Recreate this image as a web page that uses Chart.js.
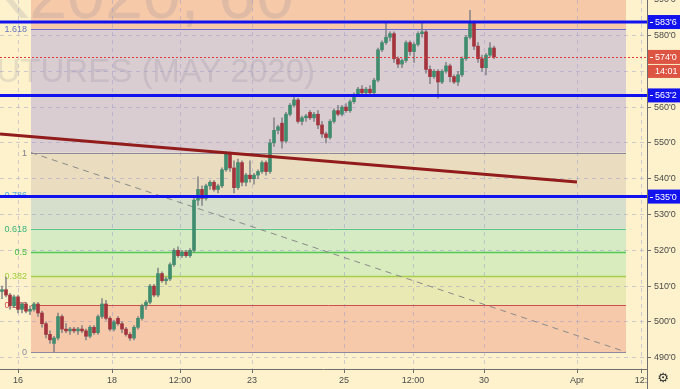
<!DOCTYPE html>
<html>
<head>
<meta charset="utf-8">
<script src="https://cdn.jsdelivr.net/npm/chart.js@4.4.1/dist/chart.umd.min.js"></script>
<style>
    html, body { margin: 0; padding: 0; background: #fdf2cc; overflow: hidden; }
    canvas { display: block; }
</style>
</head>
<body>
<canvas id="wheatChart" width="680" height="389"></canvas>
<script>
// ================= DATA =================
// hourly candles, index 0..123
const opens = [
    508.5,509,507.5,504.5,507,503.5,505,503,503.5,505,
    502.5,499.5,496.5,494,495.5,501.5,498,497.5,498,497.5,
    498,497.5,496,498.5,497,501.5,505,501,498,501,
    499.5,498,496.5,495.5,498.5,501,504.5,505.5,510,507.5,
    513.5,511.5,512,516,520,518.5,519.5,518.5,520,534,
    537,534.5,538,539,537,538,542.5,547,543,537.5,
    544.5,539,541,540,541,542,544.5,542,550,553.5,
    555.5,550.5,558,560.5,562,556,557,558.5,557,558,
    555,552.5,551.5,556,559,558,560,559,561.5,563.5,
    565,564,565,564,567.5,576,578,579.5,580.5,573.5,
    572,573,578,575.5,577.5,580.5,581,570.5,568.5,570,
    567,570,571.5,568.5,567,569,573.5,579.5,583.5,577,
    573.5,571,574.5,576.5
];
const highs = [
    510,512.5,508,507.5,507.5,505.5,505.5,504.5,505.5,505.5,
    503,500,497.5,496,502.5,502,499.5,498.5,498.5,498.5,
    499,498,499,499,502,506.5,506,501.5,500.5,501.5,
    500,498.5,497,499,501.5,505,506,510.5,510.5,515,
    514,512.5,516.5,520.5,521,520,520,520.5,535,540.5,
    538,538.5,539.5,539.5,538.5,543,547.5,547.5,545,545.5,
    545,541.5,545,541.5,542.5,545,545,551,557,555,
    557,558.5,561,562.8,562.5,557.5,558,559,558.5,559,
    556,553,556.5,559.5,560.5,560.5,561,562,564,565.5,
    566,565.5,566,568,576.5,578.5,583.75,581,581,574,
    573.5,578.5,578.5,578,581,583.75,581.5,571.5,570.5,570.5,
    570.5,572.5,572,569,570,574,580,587,584,578,
    574.5,575,578,577
];
const lows = [
    506.5,507,503.5,504,502.5,502.5,502.5,502,503,501.5,
    498.5,495.5,494,491.6,495,497,497,496.5,497,496.5,
    497,495,495.5,496.5,496.5,501,500.5,497.5,497.5,499,
    497,496,494.8,495,498,500.5,503.5,505,507,507,
    511,510.5,511.5,515.5,518,518,518,518,519.5,532.5,
    532.5,534,537,536.5,536,537.5,542,542,536,537,
    538,538,539,538.5,540,541.5,541,541.5,549,552.5,
    548.5,550,557.5,560,555.5,555,556,556.5,556,554,
    551.5,550,551,555.5,557.5,557.5,558.5,558.5,561,563,
    563.5,563.5,563.5,563.5,567,575.5,577.5,578.5,572.5,571,
    571,572.5,574.5,572.5,577,579.5,569.5,566.5,568,562.5,
    566.5,569.5,567,566.5,566,568.5,573,579,576,572.5,
    570,569,574,573.5
];
const closes = [
    509,507.5,504.5,507,503.5,505,503,503.5,505,502.5,
    499.5,496.5,495,495.5,501.5,498,497.5,498,497.5,498,
    497.5,496,498.5,497,501.5,505,501,498,500,499.5,
    498,496.5,495.5,498.5,501,504.5,505.5,510,507.5,513.5,
    511.5,512,516,520,518.5,519.5,518.5,520,534,537,
    534.5,538,539,537,538,542.5,547,543,537.5,544.5,
    539,541,540,541,542,544.5,542,550,553.5,554.5,
    550.5,558,560.5,562,556,557,557.5,557,558,555,
    552.5,551.5,556,559,558,560,559,561.5,563.5,565,
    564,565,564,567.5,576,578,579.5,580.5,573.5,572,
    573,578,575.5,577.5,580.5,581,570.5,568.5,570,567,
    570,571.5,568.5,567,569,573.5,579.5,583.5,577,573.5,
    571,574.5,576.5,574
];

// time axis (bar index) and labels
const timeTickIdx = [4, 27.5, 44.5, 62.5, 85.5, 102.75, 120.5, 143.75, 159.75];
const timeTickLabels = ["16", "18", "12:00", "23", "25", "12:00", "30", "Apr", "12:"];
const priceTicks = [490, 500, 510, 520, 530, 540, 550, 560, 570, 580, 590];

// fibonacci retracement
const fibRatios = [0, 0.236, 0.382, 0.5, 0.618, 0.786, 1, 1.618, 2.618];
const fibLabels = ["0", "0.236", "0.382", "0.5", "0.618", "0.786", "1", "1.618", ""];
const fibLineColors = ["#8e8a9e", "#c9504c", "#a2d04a", "#55c955", "#58c48e", "#5aaade", "#8e8a9e", "#6f6fd2", "#8e8a9e"];
const fibTextColors = ["#8e8a9e", "#e04848", "#9fcd3a", "#44bb44", "#3bb27b", "#58a8e0", "#7e7e8e", "#6b76c0", "#8e8a9e"];
const fibBandColors = ["#f5c9a9", "#e9e9b3", "#d9ecbd", "#d6ebc3", "#d5dfcb", "#eaddbf", "#dacdd1", "#f6c9a9"];
const fibLow = 491.6, fibHigh = 547.3;
const fibStart = 7.25, fibEnd = 156;

// horizontal levels, last price, trend line
const levelValues = [583.75, 563.25, 535];
const levelLabels = ["583'6", "563'2", "535'0"];
const lastPrice = 574;
const lastPriceLabel = "574'0";
const countdownLabel = "14:01";
const trendX = [-0.5, 143.75];
const trendY = [552.5, 539.1];

// ================= HELPERS =================
const fibValue = (r) => fibLow + r * (fibHigh - fibLow);
const axisFont = { family: "Liberation Sans, Arial, sans-serif", size: 9 };

const candleBodies = opens.map((o, i) => ({ x: i, y: [o, closes[i]] }));
const candleWicks = lows.map((l, i) => ({ x: i, y: [l, highs[i]] }));
const bodyColors = opens.map((o, i) => closes[i] >= o ? "#3f8d6e" : "#a3343d");

// no extra room for half labels at the edges
function noEdgePadding(scale) {
    scale.paddingTop = 0;
    scale.paddingBottom = 0;
    scale.paddingLeft = 0;
    scale.paddingRight = 0;
}

// ================= DRAWINGS PLUGIN =================
const drawingsPlugin = {
    id: "drawings",
    beforeDraw(chart) {
        const { ctx, chartArea: a, scales: { x, y } } = chart;
        ctx.save();
        ctx.fillStyle = "#fdf2cc";
        ctx.fillRect(0, 0, chart.width, chart.height);

        ctx.beginPath();
        ctx.rect(a.left, a.top, a.right - a.left, a.bottom - a.top);
        ctx.clip();

        // fib bands
        const x0 = x.getPixelForValue(fibStart);
        const x1 = x.getPixelForValue(fibEnd);
        for (let k = 0; k < fibRatios.length - 1; k++) {
            const yA = y.getPixelForValue(fibValue(fibRatios[k]));
            const yB = y.getPixelForValue(fibValue(fibRatios[k + 1]));
            ctx.fillStyle = fibBandColors[k];
            ctx.fillRect(x0, yB, x1 - x0, yA - yB);
        }

        // watermark
        ctx.fillStyle = "rgba(110,110,140,0.17)";
        ctx.textAlign = "right";
        ctx.textBaseline = "alphabetic";
        ctx.font = "68px Liberation Sans, Arial, sans-serif";
        ctx.fillText("ZWK2020, 60", 294, 18);
        ctx.font = "33px Liberation Sans, Arial, sans-serif";
        ctx.fillText("WHEAT FUTURES (MAY 2020)", 315, 82);
        ctx.restore();
    },
    beforeDatasetsDraw(chart) {
        const { ctx, scales: { x, y } } = chart;
        const x0 = x.getPixelForValue(fibStart);
        const x1 = x.getPixelForValue(fibEnd);
        ctx.save();
        ctx.font = "9px Liberation Sans, Arial, sans-serif";
        ctx.textAlign = "right";
        ctx.textBaseline = "middle";
        fibRatios.forEach((r, k) => {
            const py = Math.round(y.getPixelForValue(fibValue(r))) + 0.5;
            ctx.strokeStyle = fibLineColors[k];
            ctx.lineWidth = (r === 0.5 || r === 0.382) ? 1.5 : 1;
            ctx.beginPath();
            ctx.moveTo(x0, py);
            ctx.lineTo(x1, py);
            ctx.stroke();
            if (fibLabels[k]) {
                ctx.fillStyle = fibTextColors[k];
                ctx.fillText(fibLabels[k], x0 - 4, py);
            }
        });
        ctx.restore();
    },
    afterDatasetsDraw(chart) {
        const { ctx, chartArea: a, scales: { y } } = chart;
        ctx.save();
        // last price dotted line
        const pyLast = Math.round(y.getPixelForValue(lastPrice)) + 0.5;
        ctx.strokeStyle = "#e23a3a";
        ctx.lineWidth = 1;
        ctx.setLineDash([2, 2]);
        ctx.beginPath();
        ctx.moveTo(0, pyLast);
        ctx.lineTo(a.right, pyLast);
        ctx.stroke();
        ctx.setLineDash([]);
        // blue horizontal levels
        ctx.strokeStyle = "#1212ee";
        ctx.lineWidth = 3;
        levelValues.forEach((v) => {
            const py = y.getPixelForValue(v);
            ctx.beginPath();
            ctx.moveTo(0, py);
            ctx.lineTo(a.right + 4, py);
            ctx.stroke();
        });
        ctx.restore();
    },
    afterDraw(chart) {
        const { ctx, chartArea: a, scales: { y } } = chart;
        ctx.save();
        // axis lines
        ctx.strokeStyle = "#6e6e6e";
        ctx.lineWidth = 1;
        ctx.beginPath();
        ctx.moveTo(0, a.bottom + 0.5);
        ctx.lineTo(a.right, a.bottom + 0.5);
        ctx.moveTo(a.right + 0.5, 0);
        ctx.lineTo(a.right + 0.5, chart.height);
        ctx.stroke();

        // price label boxes
        ctx.font = "9px Liberation Sans, Arial, sans-serif";
        ctx.textAlign = "left";
        ctx.textBaseline = "middle";
        const box = (py, bg, text) => {
            ctx.fillStyle = bg;
            ctx.fillRect(a.right + 1, py - 7, chart.width - a.right - 1, 14);
            ctx.strokeStyle = "#ffffff";
            ctx.lineWidth = 1;
            ctx.beginPath();
            ctx.moveTo(a.right + 3, Math.round(py) + 0.5);
            ctx.lineTo(a.right + 6, Math.round(py) + 0.5);
            ctx.stroke();
            ctx.fillStyle = "#ffffff";
            ctx.fillText(text, a.right + 8, py + 0.5);
        };
        levelValues.forEach((v, k) => box(y.getPixelForValue(v), "#1212ee", levelLabels[k]));
        const pyLast = y.getPixelForValue(lastPrice);
        box(pyLast, "#dd5443", lastPriceLabel);
        ctx.fillStyle = "#dd5443";
        ctx.fillRect(a.right + 1, pyLast + 8, chart.width - a.right - 1, 13);
        ctx.fillStyle = "#ffffff";
        ctx.fillText(countdownLabel, a.right + 8, pyLast + 14.5);

        // settings gear
        ctx.fillStyle = "#333333";
        ctx.font = "13px DejaVu Sans, sans-serif";
        ctx.textAlign = "center";
        ctx.fillText("\u2699", 663, 379);
        ctx.restore();
    }
};

// ================= CHART =================
const wheatCtx = document.getElementById("wheatChart");
new Chart(wheatCtx, {
    type: "bar",
    data: {
        datasets: [
            {
                type: "line",
                data: trendX.map((v, i) => ({ x: v, y: trendY[i] })),
                borderColor: "#921c1c",
                borderWidth: 3,
                pointRadius: 0,
                fill: false,
                order: 0
            },
            {
                data: candleBodies,
                backgroundColor: bodyColors,
                barThickness: 3,
                minBarLength: 1,
                grouped: false,
                borderWidth: 0,
                order: 1
            },
            {
                data: candleWicks,
                backgroundColor: "rgba(125,125,130,0.85)",
                barThickness: 1,
                grouped: false,
                borderWidth: 0,
                order: 2
            },
            {
                type: "line",
                data: [{ x: fibStart, y: fibValue(1) }, { x: fibEnd, y: fibValue(0) }],
                borderColor: "#8a8a8a",
                borderWidth: 1,
                borderDash: [6, 5],
                pointRadius: 0,
                fill: false,
                order: 3
            }
        ]
    },
    options: {
        responsive: false,
        animation: false,
        devicePixelRatio: 1,
        layout: { padding: 0 },
        plugins: {
            legend: { display: false },
            tooltip: { enabled: false }
        },
        scales: {
            x: {
                type: "linear",
                min: -0.5,
                max: 161.25,
                offset: false,
                afterBuildTicks: (scale) => { scale.ticks = timeTickIdx.map((v) => ({ value: v })); },
                afterFit: (scale) => { scale.height = 20; noEdgePadding(scale); },
                grid: {
                    offset: false,
                    color: "rgba(150,150,205,0.45)",
                    tickColor: "#6e6e6e",
                    tickLength: 4
                },
                border: { display: false, dash: [4, 4] },
                ticks: {
                    autoSkip: false,
                    maxRotation: 0,
                    minRotation: 0,
                    padding: 2,
                    color: "#4a4a4a",
                    font: axisFont,
                    callback: (v, i) => timeTickLabels[i]
                }
            },
            y: {
                position: "right",
                min: 486.85,
                max: 589.9,
                afterBuildTicks: (scale) => { scale.ticks = priceTicks.map((v) => ({ value: v })); },
                afterFit: (scale) => { scale.width = 33; noEdgePadding(scale); },
                grid: {
                    color: "rgba(150,150,205,0.45)",
                    tickColor: "#6e6e6e",
                    tickLength: 4
                },
                border: { display: false, dash: [4, 4] },
                ticks: {
                    autoSkip: false,
                    padding: 3,
                    color: "#4a4a4a",
                    font: axisFont,
                    callback: (v) => v + "'0"
                }
            }
        }
    },
    plugins: [drawingsPlugin]
});
</script>
</body>
</html>
